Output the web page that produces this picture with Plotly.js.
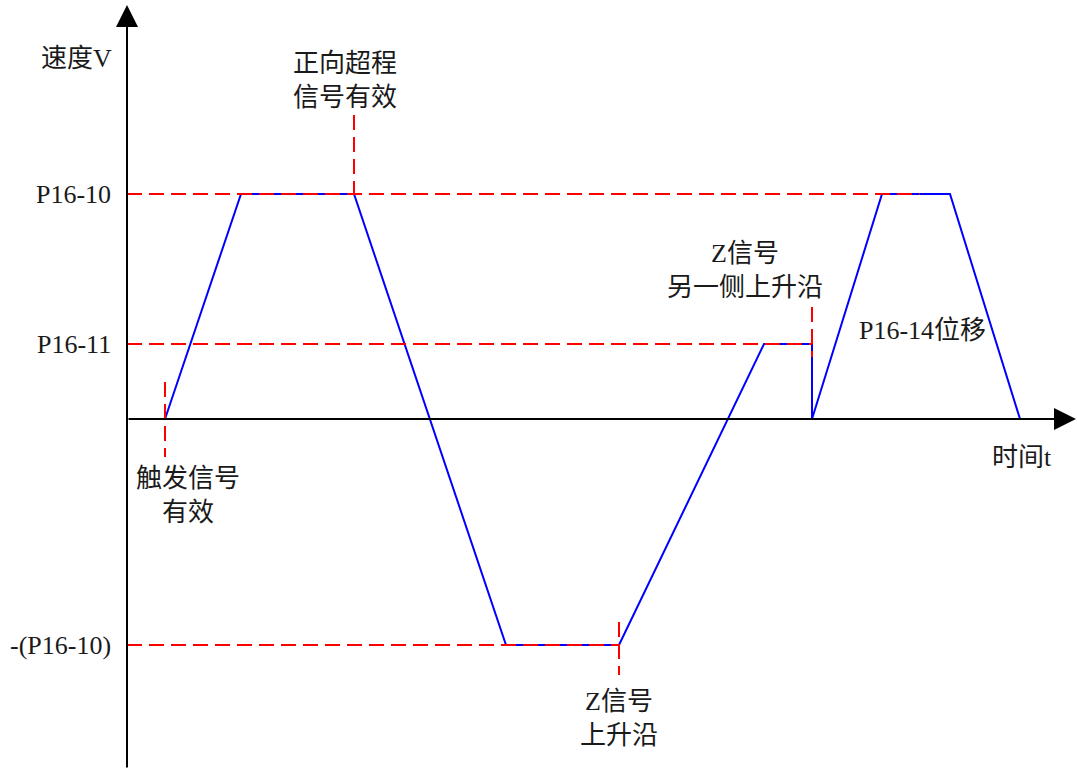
<!DOCTYPE html>
<html>
<head>
<meta charset="utf-8">
<script src="https://cdn.plot.ly/plotly-3.0.1.min.js"></script>
<style>
  html, body { margin: 0; padding: 0; background: #fff; }
  #chart { width: 1077px; height: 769px; }
</style>
</head>
<body>
<div id="chart"></div>
<script>
// speed profile (time, speed)
const t = [38, 114, 227, 379, 492, 637, 685, 685, 755, 823, 893];
const v = [0, 225, 225, -226, -226, 75, 75, 0, 225, 225, 0];

// reference levels and where their dashed guides stop
const levelNames = ['P16-10', 'P16-11', '-(P16-10)'];
const levelValues = [225, 75, -226];
const levelEnds = [793, 685, 492];

// vertical event markers: x, from, to
const markX = [38, 227, 492, 685];
const markFrom = [37, 304, -203, 112];
const markTo = [-38, 225, -256, 62];

const serif = 'Liberation Serif, Noto Sans CJK SC, serif';
const red = '#ff0000';

const traces = [
  {
    x: t, y: v,
    mode: 'lines',
    line: { color: '#0000ff', width: 2 },
    hoverinfo: 'skip'
  }
];

levelValues.forEach((lv, i) => {
  traces.push({
    x: [0, levelEnds[i]], y: [lv, lv],
    mode: 'lines',
    line: { color: red, width: 2, dash: '15px,7px' },
    hoverinfo: 'skip'
  });
});

markX.forEach((mx, i) => {
  traces.push({
    x: [mx, mx], y: [markFrom[i], markTo[i]],
    mode: 'lines',
    line: { color: red, width: 2, dash: '15px,7px' },
    hoverinfo: 'skip'
  });
});

const txt = (x, y, text, xanchor) => ({
  x: x, y: y, xref: 'x', yref: 'y',
  text: text, showarrow: false,
  xanchor: xanchor || 'center', yanchor: 'middle',
  align: 'center',
  font: { family: serif, size: 26, color: '#1a1a1a' }
});

const annotations = [
  // axes with arrows
  { x: 0, y: 414, ax: 0, ay: -350, xref: 'x', yref: 'y', axref: 'x', ayref: 'y',
    showarrow: true, arrowhead: 2, arrowwidth: 2, arrowsize: 2.2, arrowcolor: '#000', text: '' },
  { x: 949, y: 0, ax: 0, ay: 0, xref: 'x', yref: 'y', axref: 'x', ayref: 'y',
    showarrow: true, arrowhead: 2, arrowwidth: 2, arrowsize: 2.2, arrowcolor: '#000', text: '' },
  txt(-51, 361, '速度V'),
  txt(895, -38, '时间t'),
  txt(218, 339, '正向超程<br>信号有效'),
  txt(61, -76, '触发信号<br>有效'),
  txt(618, 149, 'Z信号<br>另一侧上升沿'),
  txt(795, 89, 'P16-14位移'),
  txt(492, -299, 'Z信号<br>上升沿')
];

levelNames.forEach((name, i) => {
  annotations.push(txt(-14, levelValues[i], name, 'right'));
});

const layout = {
  width: 1077,
  height: 769,
  margin: { l: 0, r: 0, t: 0, b: 0 },
  paper_bgcolor: '#fff',
  plot_bgcolor: '#fff',
  showlegend: false,
  hovermode: false,
  xaxis: { range: [-127, 950], visible: false, fixedrange: true },
  yaxis: { range: [-350, 419], visible: false, fixedrange: true },
  annotations: annotations
};

Plotly.newPlot('chart', traces, layout, { displayModeBar: false, staticPlot: true });
</script>
</body>
</html>
